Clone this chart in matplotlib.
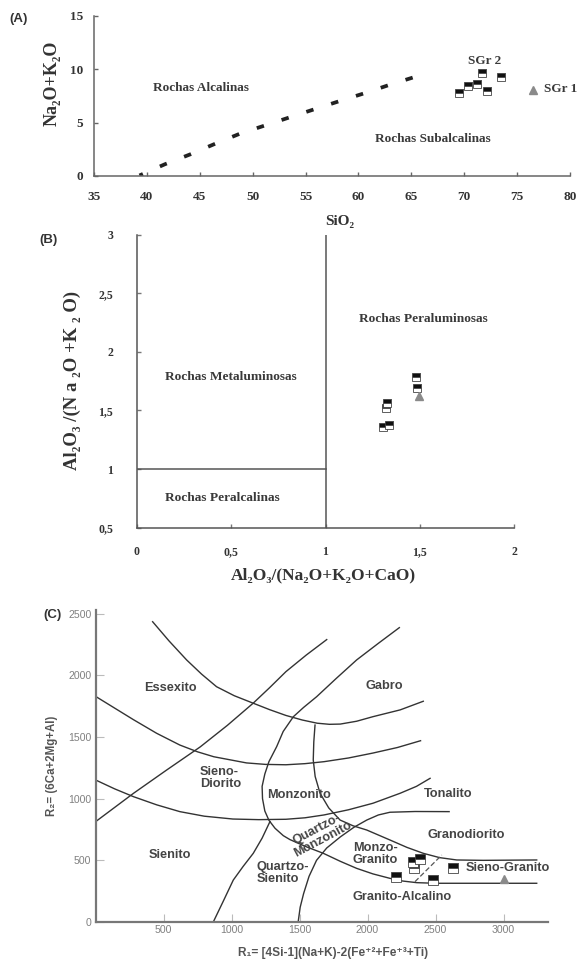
import matplotlib
matplotlib.use("Agg")
import matplotlib.pyplot as plt

W, H = 577, 960
SERIF = ['Liberation Serif', 'DejaVu Serif']
SANS = ['Liberation Sans', 'DejaVu Sans']

# ---------------- Panel A data ----------------
a_div_sio2 = [39.3, 41.7, 44.1, 46.4, 48.8, 51.2, 53.5, 55.9, 58.3, 60.7, 63.1, 65.6]
a_div_alk = [0.05, 1.1, 2.03, 3.0, 3.97, 4.75, 5.5, 6.28, 7.05, 7.8, 8.6, 9.37]
a_sgr2_sio2 = [69.5, 70.4, 71.2, 71.7, 72.2, 73.5]
a_sgr2_alk = [7.75, 8.44, 8.62, 9.68, 7.97, 9.28]
a_sgr1_sio2 = [76.5]
a_sgr1_alk = [8.1]
a_xticks = [35, 40, 45, 50, 55, 60, 65, 70, 75, 80]
a_yticks = [0, 5, 10, 15]

# ---------------- Panel B data ----------------
b_sgr2_acnk = [1.478, 1.483, 1.324, 1.319, 1.303, 1.336]
b_sgr2_ank = [1.786, 1.695, 1.566, 1.518, 1.36, 1.375]
b_sgr1_acnk = [1.495]
b_sgr1_ank = [1.624]
b_xticks = [0, 0.5, 1, 1.5, 2]
b_xlabels = ['0', '0,5', '1', '1,5', '2']
b_yticks = [0.5, 1, 1.5, 2, 2.5, 3]
b_ylabels = ['0,5', '1', '1,5', '2', '2,5', '3']

# ---------------- Panel C data ----------------
c_curves = [
    [(420, 2435), (540, 2280), (670, 2125), (780, 2010), (890, 1908), (1020, 1835),
     (1160, 1774), (1280, 1722), (1400, 1675), (1520, 1638), (1630, 1612), (1720, 1603),
     (1800, 1605), (1920, 1628), (2040, 1665), (2240, 1720), (2410, 1790)],
    [(0, 1830), (140, 1735), (280, 1640), (450, 1530), (620, 1435), (750, 1380), (870, 1340),
     (1110, 1290), (1250, 1278), (1400, 1275), (1540, 1284), (1680, 1300), (1860, 1330),
     (2040, 1370), (2220, 1415), (2390, 1470)],
    [(0, 1152), (140, 1080), (280, 1016), (450, 950), (620, 895), (800, 858), (1010, 835),
     (1200, 830), (1400, 833), (1540, 845), (1680, 868), (1860, 910), (2040, 963),
     (2240, 1044), (2360, 1100), (2460, 1165)],
    [(0, 813), (280, 1044), (520, 1230), (770, 1420), (970, 1595), (1160, 1775),
     (1280, 1900), (1400, 2030), (1550, 2165), (1700, 2290)],
    [(2234, 2387), (2080, 2260), (1920, 2125), (1770, 1975), (1626, 1827), (1530, 1740),
     (1455, 1665), (1380, 1545), (1332, 1422), (1275, 1300), (1245, 1200), (1225, 1100),
     (1228, 1000), (1245, 900), (1275, 825), (1320, 760), (1381, 700), (1430, 668),
     (1550, 610), (1675, 557), (1800, 492), (1920, 435), (2040, 390), (2165, 354),
     (2260, 332), (2362, 319), (2500, 314), (2656, 314), (3244, 314)],
    [(1614, 1597), (1605, 1460), (1601, 1314), (1615, 1180), (1651, 1044), (1715, 925),
     (1798, 827), (1894, 780), (1994, 746), (2165, 665), (2290, 605), (2410, 557),
     (2530, 522), (2656, 503), (2850, 500), (3244, 503)],
    [(1490, 0), (1505, 120), (1530, 230), (1570, 370), (1625, 500), (1700, 600),
     (1800, 690), (1900, 768), (1995, 827), (2080, 868), (2165, 890), (2350, 896), (2600, 895)],
    [(866, 0), (940, 170), (1013, 340), (1085, 450), (1160, 557), (1225, 680), (1283, 815)],
]
c_dashed = [(2349, 327), (2546, 543)]
c_sgr2_r1 = [2210, 2335, 2340, 2385, 2480, 2625]
c_sgr2_r2 = [367, 485, 440, 510, 340, 435]
c_sgr1_r1 = [3000]
c_sgr1_r2 = [350]
c_xticks = [500, 1000, 1500, 2000, 2500, 3000]
c_yticks = [0, 500, 1000, 1500, 2000, 2500]

fig = plt.figure(figsize=(W / 100, H / 100), dpi=100)


def ax_px(l, t, r, b):
    return fig.add_axes([l / W, 1 - b / H, (r - l) / W, (b - t) / H])


def ftext(x, y, s, **kw):
    fig.text(x / W, 1 - y / H, s, **kw)


sq_kw = dict(ls='none', marker='s', fillstyle='top', mfc='#111111', mfcalt='white',
             mec='#444444', mew=0.6)
tri_kw = dict(ls='none', marker='^', color='#8a8a8a', mec='#8a8a8a')

# ---------------- Panel A ----------------
axA = ax_px(94, 16, 570, 176)
axA.set_xlim(35, 80)
axA.set_ylim(0, 15)
axA.plot(a_div_sio2, a_div_alk, color='#222222', lw=2.7,
         linestyle=(1.0, (2.0, 4.95)), dash_capstyle='butt')
axA.plot(a_sgr2_sio2, a_sgr2_alk, ms=5.3, **sq_kw)
axA.plot(a_sgr1_sio2, a_sgr1_alk, ms=6, **tri_kw)
axA.set_xticks(a_xticks)
axA.set_yticks(a_yticks)
axA.set_xticklabels([str(v) for v in a_xticks])
axA.set_yticklabels([str(v) for v in a_yticks])
for s in ['top', 'right']:
    axA.spines[s].set_visible(False)
for s in ['left', 'bottom']:
    axA.spines[s].set_color('#666666')
    axA.spines[s].set_linewidth(1.1)
axA.tick_params(direction='in', length=3, width=1, color='#666666', labelcolor='#333333',
                labelsize=9.5)
axA.tick_params(axis='x', pad=11)
axA.tick_params(axis='y', pad=8)
for lab in axA.get_xticklabels() + axA.get_yticklabels():
    lab.set_family(SERIF)
    lab.set_fontweight('bold')
txtA = dict(family=SERIF, fontweight='bold', color='#3a3a3a', fontsize=9.5,
            ha='center', va='center')
axA.text(45.1, 8.25, 'Rochas Alcalinas', **txtA)
axA.text(67.0, 3.47, 'Rochas Subalcalinas', **txtA)
axA.text(71.9, 10.78, 'SGr 2', **txtA)
axA.text(77.5, 8.16, 'SGr 1', **{**txtA, 'ha': 'left'})
ftext(52, 83, 'Na₂O+K₂O', family=SERIF, fontweight='bold', color='#333333',
      fontsize=13, rotation=90, ha='center', va='center')
ftext(340, 221, 'SiO₂', family=SERIF, fontweight='bold', color='#333333',
      fontsize=11, ha='center', va='center')
ftext(19, 19, '(A)', family=SANS, fontweight='bold', color='#333333',
      fontsize=9.5, ha='center', va='center')

# ---------------- Panel B ----------------
axB = ax_px(136.7, 234.7, 514.3, 527.7)
axB.set_xlim(0, 2)
axB.set_ylim(0.5, 3)
axB.axvline(1, color='#555555', lw=1.1)
axB.plot([0, 1], [1, 1], color='#555555', lw=1.1)
axB.plot(b_sgr2_acnk, b_sgr2_ank, ms=5.3, **sq_kw)
axB.plot(b_sgr1_acnk, b_sgr1_ank, ms=6, **tri_kw)
axB.set_xticks(b_xticks)
axB.set_xticklabels(b_xlabels)
axB.set_yticks(b_yticks)
axB.set_yticklabels(b_ylabels)
for s in ['top', 'right']:
    axB.spines[s].set_visible(False)
for s in ['left', 'bottom']:
    axB.spines[s].set_color('#555555')
    axB.spines[s].set_linewidth(1.1)
axB.tick_params(direction='in', length=3, width=1, color='#777777', labelcolor='#333333',
                labelsize=8.5)
axB.tick_params(axis='x', pad=13)
axB.tick_params(axis='y', pad=17)
for lab in axB.get_xticklabels() + axB.get_yticklabels():
    lab.set_family(SERIF)
    lab.set_fontweight('bold')
txtB = dict(family=SERIF, fontweight='bold', color='#3a3a3a', fontsize=9.6, va='center')
axB.text(0.15, 1.79, 'Rochas Metaluminosas', ha='left', **txtB)
axB.text(0.15, 0.756, 'Rochas Peralcalinas', ha='left', **txtB)
axB.text(1.518, 2.278, 'Rochas Peraluminosas', ha='center', **txtB)
ftext(72, 380, 'Al₂O₃ /(N a ₂O +K ₂ O)', family=SERIF, fontweight='bold',
      color='#333333', fontsize=13.5, rotation=90, ha='center', va='center')
ftext(323, 575, 'Al₂O₃/(Na₂O+K₂O+CaO)', family=SERIF, fontweight='bold',
      color='#333333', fontsize=12.5, ha='center', va='center')
ftext(49, 240, '(B)', family=SANS, fontweight='bold', color='#333333',
      fontsize=9.5, ha='center', va='center')

# ---------------- Panel C ----------------
axC = ax_px(95.5, 610, 548, 922)
axC.set_xlim(0, 3327)
axC.set_ylim(0, 2530)
for cv in c_curves:
    xs = [p[0] for p in cv]
    ys = [p[1] for p in cv]
    axC.plot(xs, ys, color='#333333', lw=1.0, solid_joinstyle='round')
axC.plot([p[0] for p in c_dashed], [p[1] for p in c_dashed], color='#555555',
         lw=0.9, ls=(0, (4, 2)))
axC.plot(c_sgr2_r1, c_sgr2_r2, ms=6.5, **sq_kw)
axC.plot(c_sgr1_r1, c_sgr1_r2, ms=6, **tri_kw)
axC.set_xticks(c_xticks)
axC.set_yticks(c_yticks)
for s in ['top', 'right']:
    axC.spines[s].set_visible(False)
for s in ['left', 'bottom']:
    axC.spines[s].set_color('#777777')
    axC.spines[s].set_linewidth(1.6)
axC.tick_params(direction='in', length=6, width=0.8, color='#bbbbbb', labelcolor='#808080',
                labelsize=7.6)
axC.tick_params(axis='x', pad=2)
axC.tick_params(axis='y', pad=3)
for lab in axC.get_xticklabels() + axC.get_yticklabels():
    lab.set_family(SANS)
txtC = dict(family=SANS, fontweight='bold', color='#444444', fontsize=9.2, va='center')
axC.text(548, 1900, 'Essexito', ha='center', **txtC)
axC.text(2121, 1914, 'Gabro', ha='center', **txtC)
axC.text(768, 1168, 'Sieno-\nDiorito', ha='left', linespacing=1.0, **txtC)
axC.text(1496, 1030, 'Monzonito', ha='center', **txtC)
axC.text(2594, 1036, 'Tonalito', ha='center', **txtC)
axC.text(2729, 706, 'Granodiorito', ha='center', **txtC)
axC.text(1651, 710, 'Quartzo-\nMonzonito', ha='center', rotation=28,
         rotation_mode='anchor', linespacing=0.95, **txtC)
axC.text(1891, 551, 'Monzo-\nGranito', ha='left', linespacing=1.0, **txtC)
axC.text(548, 543, 'Sienito', ha='center', **txtC)
axC.text(1185, 397, 'Quartzo-\nSienito', ha='left', linespacing=1.0, **txtC)
axC.text(2251, 205, 'Granito-Alcalino', ha='center', **txtC)
axC.text(3035, 435, 'Sieno-Granito', ha='center', **txtC)
ftext(52, 766, 'R₂= (6Ca+2Mg+Al)', family=SANS, fontweight='bold', color='#555555',
      fontsize=8.3, rotation=90, ha='center', va='center')
ftext(333, 953, 'R₁= [4Si-1](Na+K)-2(Fe⁺²+Fe⁺³+Ti)', family=SANS, fontweight='bold',
      color='#555555', fontsize=8.6, ha='center', va='center')
ftext(52, 615, '(C)', family=SANS, fontweight='bold', color='#333333',
      fontsize=9.5, ha='center', va='center')

fig.savefig('out.png', dpi=100)
